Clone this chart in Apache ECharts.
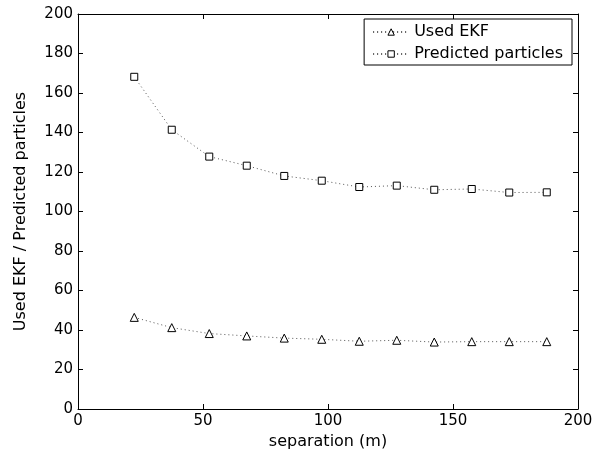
<!DOCTYPE html>
<html><head><meta charset="utf-8">
<script src="https://cdn.jsdelivr.net/npm/echarts@6/dist/echarts.min.js"></script>
<style>html,body{margin:0;padding:0;background:#fff}#c{width:608px;height:457px}</style>
</head><body><div id="c"></div>
<script>
const separation = [22.5, 37.5, 52.5, 67.5, 82.5, 97.5, 112.5, 127.5, 142.5, 157.5, 172.5, 187.5];
const usedEKF = [46.4, 41.2, 38.2, 37.0, 35.9, 35.3, 34.3, 34.8, 33.9, 34.1, 34.1, 34.1];
const predictedParticles = [168.2, 141.4, 127.8, 123.2, 118.0, 115.6, 112.4, 113.1, 111.0, 111.4, 109.6, 109.7];
const seriesNames = ['Used EKF', 'Predicted particles'];

const font = 'DejaVu Sans, Liberation Sans, Arial, sans-serif';
const chart = echarts.init(document.getElementById('c'), null, {renderer: 'canvas'});
const axLine = {show: true, onZero: false, lineStyle: {color: '#000', width: 1}};
const tick = {show: true, inside: true, length: 5, lineStyle: {color: '#000'}};
const lbl = {color: '#000', fontFamily: font, fontSize: 15};
function pairs(ys) { return separation.map((x, i) => [x, ys[i]]); }
chart.setOption({
  animation: false,
  backgroundColor: '#fff',
  grid: {left: 78, right: 30, top: 14, bottom: 48, show: false},
  legend: {
    orient: 'vertical', right: 36, top: 19,
    backgroundColor: '#fff', borderColor: '#000', borderWidth: 1,
    padding: [5, 9, 3, 8], itemGap: 6, itemWidth: 36, itemHeight: 8,
    itemStyle: {color: '#fff', borderColor: '#000', borderWidth: 1},
    textStyle: {color: '#000', fontFamily: font, fontSize: 16},
    data: seriesNames
  },
  xAxis: [
    {type: 'value', min: 0, max: 200, interval: 50, position: 'bottom',
     axisLine: axLine, axisTick: tick, splitLine: {show: false},
     axisLabel: Object.assign({margin: 5}, lbl),
     name: 'separation (m)', nameLocation: 'middle', nameGap: 24,
     nameTextStyle: {color: '#000', fontFamily: font, fontSize: 16}},
    {type: 'value', min: 0, max: 200, interval: 50, position: 'top',
     axisLine: axLine, axisTick: tick, splitLine: {show: false}, axisLabel: {show: false}}
  ],
  yAxis: [
    {type: 'value', min: 0, max: 200, interval: 20, position: 'left',
     axisLine: axLine, axisTick: tick, splitLine: {show: false},
     axisLabel: Object.assign({margin: 5}, lbl),
     name: 'Used EKF / Predicted particles', nameLocation: 'middle', nameGap: 49,
     nameTextStyle: {color: '#000', fontFamily: font, fontSize: 16}},
    {type: 'value', min: 0, max: 200, interval: 20, position: 'right',
     axisLine: axLine, axisTick: tick, splitLine: {show: false}, axisLabel: {show: false}}
  ],
  series: [
    {name: seriesNames[0], type: 'line', data: pairs(usedEKF),
     symbol: 'triangle', symbolSize: 8, showSymbol: true,
     lineStyle: {color: '#555', width: 1, type: [1, 3]},
     itemStyle: {color: '#fff', borderColor: '#000', borderWidth: 1}},
    {name: seriesNames[1], type: 'line', data: pairs(predictedParticles),
     symbol: 'rect', symbolSize: 7, showSymbol: true,
     lineStyle: {color: '#555', width: 1, type: [1, 3]},
     itemStyle: {color: '#fff', borderColor: '#000', borderWidth: 1}}
  ]
});
</script></body></html>
